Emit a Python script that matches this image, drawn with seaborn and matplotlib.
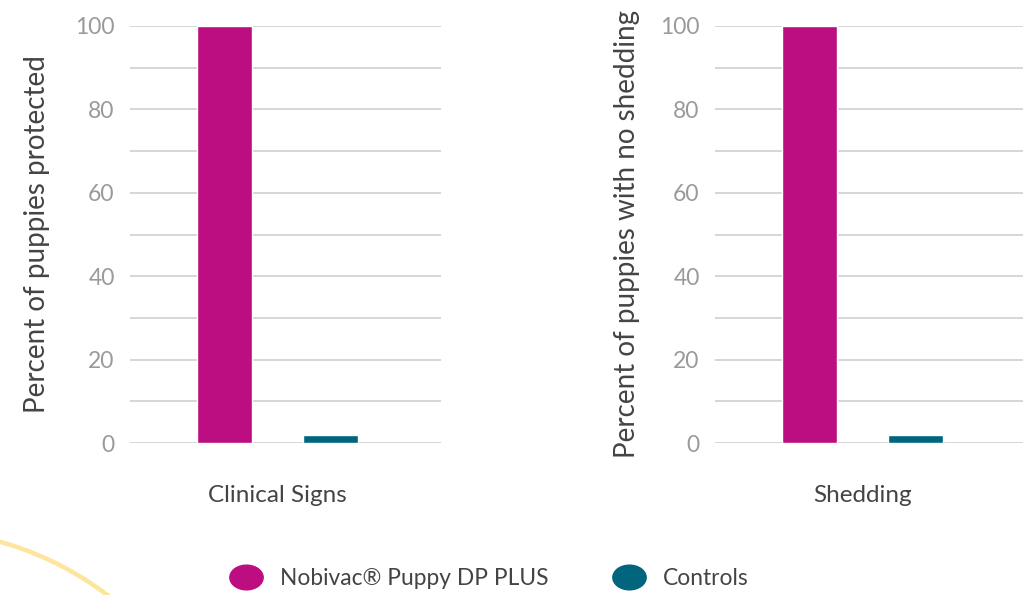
import pandas as pd
import matplotlib.pyplot as plt
import matplotlib.patches as mpatches
from matplotlib.lines import Line2D
from matplotlib.path import Path
from matplotlib.transforms import Affine2D
import seaborn as sns

# ---------------------------------------------------------------
# Data
# ---------------------------------------------------------------
groups = ['Nobivac® Puppy DP PLUS', 'Controls']
clinical_values = [100, 1.8]
shedding_values = [100, 1.8]
panel_categories = ['Clinical Signs', 'Shedding']
panel_ylabels = ['Percent of puppies protected', 'Percent of puppies with no shedding']
colors = ['#BC0E80', '#00657D']

sns.set_style('white')
plt.rcParams['font.family'] = ['Lato', 'DejaVu Sans']

fig = plt.figure(figsize=(10.23, 5.95), dpi=100)

# decorative yellow arc (background)
bg = fig.add_axes([0, 0, 1, 1], zorder=0)
bg.set_xlim(0, 1023)
bg.set_ylim(595, 0)
bg.axis('off')
bg.add_patch(mpatches.Circle((-86, 850), 320, fill=False, ec='#FDE59B', lw=3.2))

panel_values = [clinical_values, shedding_values]
lefts = [130 / 1023, 715 / 1023]
label_x = [-0.257, -0.241]

for i in range(2):
    ax = fig.add_axes([lefts[i], 152 / 595, 311 / 1023, 417 / 595], zorder=1)
    ax.patch.set_alpha(0)
    df = pd.DataFrame({
        'category': [panel_categories[i]] * 2,
        'group': groups,
        'value': panel_values[i],
    })
    sns.barplot(data=df, x='category', y='value', hue='group',
                palette=colors, width=0.8, gap=0.48, saturation=1,
                legend=False, ax=ax, zorder=3)
    ax.set_ylim(0, 100)
    ax.set_xlim(-0.557, 0.617)
    ax.set_yticks(range(0, 101, 20))
    ax.set_yticks(range(10, 100, 20), minor=True)
    ax.grid(True, axis='y', which='both', color='#D3D3D3', lw=1.3, zorder=0)
    ax.set_axisbelow(True)
    sns.despine(ax=ax, left=True, bottom=True)
    ax.tick_params(axis='y', which='both', length=0, pad=11, labelsize=16.5,
                   labelcolor='#9A9A9A')
    ax.tick_params(axis='x', length=0, pad=30, labelsize=17.5, labelcolor='#444444')
    ax.set_xlabel('')
    ax.set_ylabel(panel_ylabels[i], fontsize=20, color='#444444')
    ax.yaxis.set_label_coords(label_x[i], 0.5)

# legend with ellipse markers
ellipse = Path.unit_circle().transformed(Affine2D().scale(1.35, 1.0))
handles = [Line2D([], [], ls='', marker=ellipse, markersize=24, color=c) for c in colors]
fig.legend(handles, groups, loc='center', bbox_to_anchor=(0.475, 0.028),
           ncol=2, frameon=False, fontsize=16.4, labelcolor='#444444',
           handletextpad=0.5, columnspacing=2.5)

fig.savefig('out.png', dpi=100)
